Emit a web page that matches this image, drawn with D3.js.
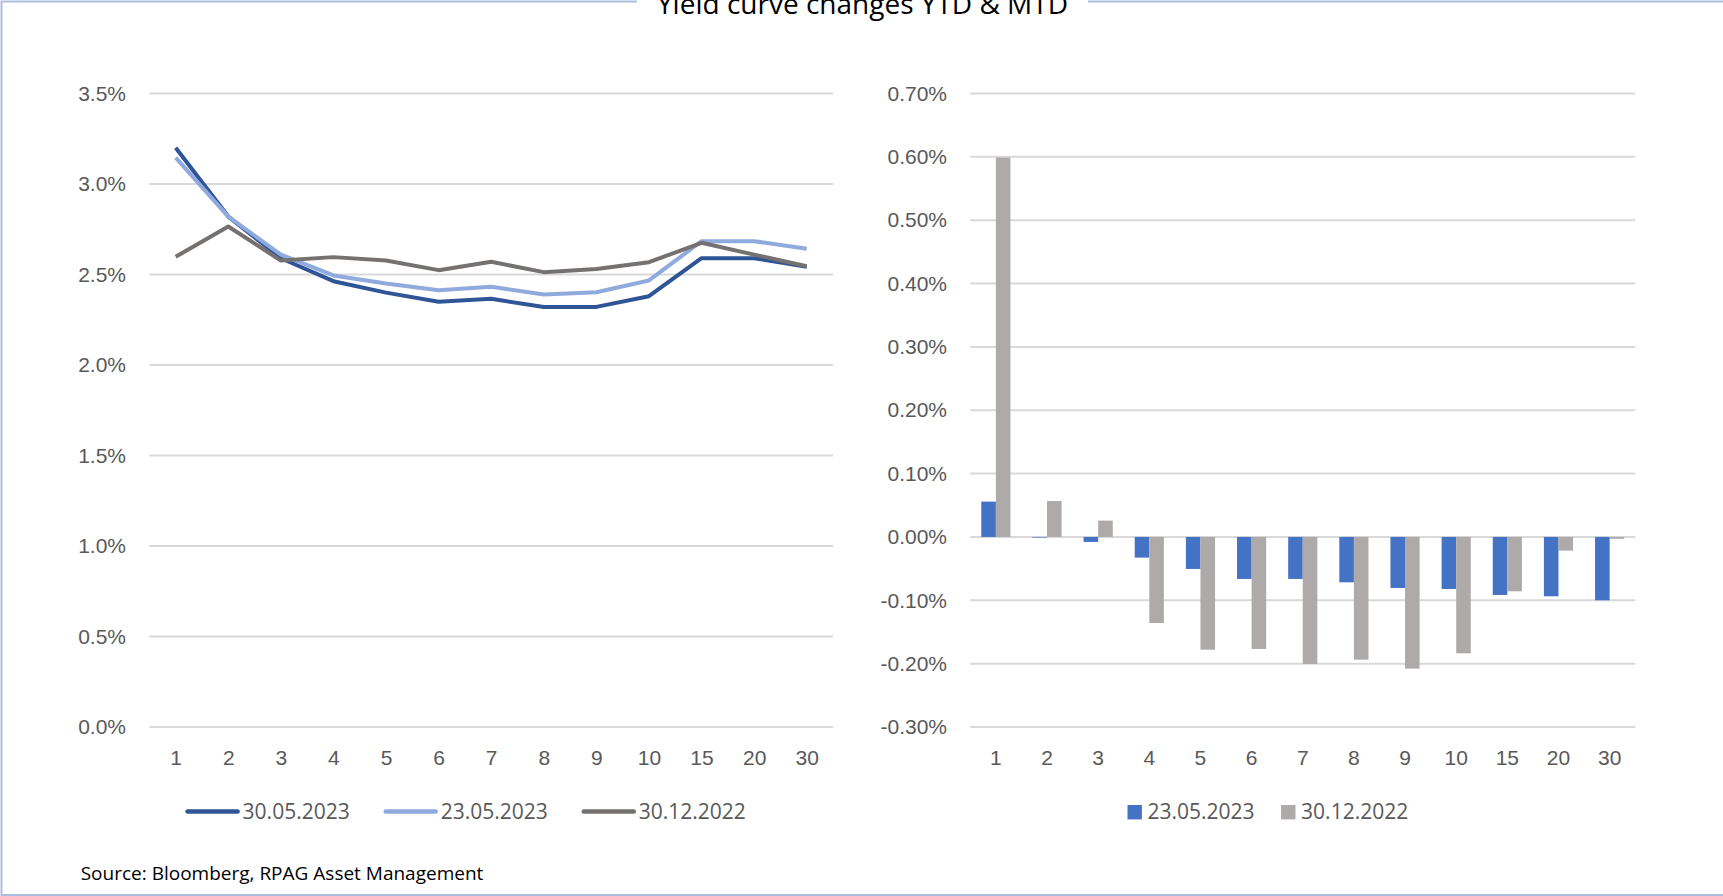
<!DOCTYPE html>
<html>
<head>
<meta charset="utf-8">
<title>Yield curve changes YTD & MTD</title>
<script src="https://cdn.jsdelivr.net/npm/d3@7"></script>
<style>
  html, body { margin: 0; padding: 0; background: #fff; overflow: hidden; }
  svg { display: block; font-family: 'Open Sans', sans-serif; }
  .tick text, .legend text { fill: #595959; font-size: 21px; }
</style>
</head>
<body>
<svg id="chart" width="1723" height="896"></svg>
<script>
// maturities (years)
const maturities = ['1', '2', '3', '4', '5', '6', '7', '8', '9', '10', '15', '20', '30'];

// yield levels in %
const curve300523 = [3.20, 2.82, 2.59, 2.463, 2.40, 2.349, 2.366, 2.32, 2.321, 2.38, 2.59, 2.59, 2.542];
const curve230523 = [3.146, 2.82, 2.61, 2.495, 2.45, 2.413, 2.432, 2.39, 2.402, 2.467, 2.684, 2.684, 2.642];
const curve301222 = [2.598, 2.765, 2.577, 2.596, 2.577, 2.524, 2.57, 2.513, 2.53, 2.568, 2.675, 2.61, 2.546];

// changes vs 30.05.2023 in %
const change230523 = [0.0558, -0.001, -0.0079, -0.0326, -0.0505, -0.0663, -0.0663, -0.0716, -0.0805, -0.0821, -0.0916, -0.0937, -0.100];
const change301222 = [0.599, 0.0568, 0.0258, -0.1358, -0.178, -0.1768, -0.2005, -0.1937, -0.2079, -0.1837, -0.0858, -0.0216, -0.003];

const levelTicks = [0, 0.5, 1, 1.5, 2, 2.5, 3, 3.5];
const changeTicks = [-0.3, -0.2, -0.1, 0, 0.1, 0.2, 0.3, 0.4, 0.5, 0.6, 0.7];

const lineSeries = [
  { name: '30.05.2023', values: curve300523, color: '#2f5597' },
  { name: '23.05.2023', values: curve230523, color: '#8faadc' },
  { name: '30.12.2022', values: curve301222, color: '#767171' }
];
const barSeries = [
  { name: '23.05.2023', values: change230523, color: '#4472c4' },
  { name: '30.12.2022', values: change301222, color: '#aeaaaa' }
];

const svg = d3.select('#chart');
const plotTop = 93.5, plotBottom = 727;
// plain hyphen for negatives, as in the original
const locale = d3.formatLocale({ decimal: '.', thousands: ',', grouping: [3], currency: ['', ''], minus: '-' });

// frame with the title sitting in a gap of the top edge
const frame = svg.append('g')
  .attr('fill', 'none')
  .attr('stroke', '#adbde0')
  .attr('stroke-width', 2);
frame.append('path').attr('d', 'M637,1.5H1.5V895H1723');
frame.append('path').attr('d', 'M1088,1.5H1723');

svg.append('text')
  .attr('x', 862.5)
  .attr('y', 13.5)
  .attr('text-anchor', 'middle')
  .attr('font-size', 28)
  .attr('fill', '#000')
  .text('Yield curve changes YTD & MTD');

// ---------- left chart: yield curves ----------
const xL = d3.scalePoint()
  .domain(maturities)
  .range([149.4, 833])
  .padding(0.5);
const yL = d3.scaleLinear()
  .domain([0, 3.5])
  .range([plotBottom, plotTop]);

gridAndAxes(xL, yL, levelTicks, locale.format('.1f'), 149.4, 833, 126);

const line = d3.line()
  .x((d, i) => xL(maturities[i]))
  .y(d => yL(d));

svg.append('g')
  .attr('class', 'lines')
  .selectAll('path')
  .data(lineSeries)
  .join('path')
  .attr('fill', 'none')
  .attr('stroke', d => d.color)
  .attr('stroke-width', 4)
  .attr('stroke-linejoin', 'round')
  .attr('d', d => line(d.values));

// legend (line swatches)
const legL = svg.append('g').attr('class', 'legend');
let lx = 185.6;
lineSeries.forEach(s => {
  legL.append('line')
    .attr('x1', lx + 2).attr('x2', lx + 52)
    .attr('y1', 811.5).attr('y2', 811.5)
    .attr('stroke', s.color)
    .attr('stroke-width', 4.5)
    .attr('stroke-linecap', 'round');
  const t = legL.append('text')
    .attr('x', lx + 57)
    .attr('y', 811.5)
    .attr('dy', '0.35em')
    .text(s.name);
  lx += 57 + t.node().getComputedTextLength() + 34;
});

// ---------- right chart: changes ----------
const xR = d3.scaleBand()
  .domain(maturities)
  .range([970.3, 1635.2]);
const xSub = d3.scaleBand()
  .domain(barSeries.map(s => s.name))
  .range([xR.bandwidth() * 0.215, xR.bandwidth() * 0.785]);
const yR = d3.scaleLinear()
  .domain([-0.3, 0.7])
  .range([plotBottom, plotTop]);

gridAndAxes(xR, yR, changeTicks, locale.format('.2f'), 970.3, 1635.2, 947);

svg.append('g')
  .attr('class', 'bars')
  .selectAll('g')
  .data(barSeries)
  .join('g')
  .attr('fill', d => d.color)
  .selectAll('rect')
  .data(s => s.values.map((v, i) => ({ key: maturities[i], name: s.name, value: v })))
  .join('rect')
  .attr('x', d => xR(d.key) + xSub(d.name))
  .attr('width', xSub.bandwidth())
  .attr('y', d => yR(Math.max(0, d.value)))
  .attr('height', d => Math.abs(yR(d.value) - yR(0)));

// legend (square swatches)
const legR = svg.append('g').attr('class', 'legend');
let rx = 1127.5;
barSeries.forEach(s => {
  legR.append('rect')
    .attr('x', rx).attr('y', 805)
    .attr('width', 14.4).attr('height', 14.4)
    .attr('fill', s.color);
  const t = legR.append('text')
    .attr('x', rx + 20)
    .attr('y', 811.5)
    .attr('dy', '0.35em')
    .text(s.name);
  rx += 20 + t.node().getComputedTextLength() + 26.5;
});

// source note
svg.append('text')
  .attr('x', 80.7)
  .attr('y', 873)
  .attr('dy', '0.35em')
  .attr('font-size', 19)
  .attr('fill', '#000')
  .text('Source: Bloomberg, RPAG Asset Management');


// UTILITY FUNCTIONS

// horizontal gridlines, y tick labels (as %) and category labels
function gridAndAxes(x, y, ticks, fmt, x0, x1, labelRight) {
  svg.append('g')
    .attr('class', 'grid')
    .selectAll('line')
    .data(ticks)
    .join('line')
    .attr('x1', x0).attr('x2', x1)
    .attr('y1', d => y(d)).attr('y2', d => y(d))
    .attr('stroke', '#d9d9d9')
    .attr('stroke-width', 2);

  const yAxis = svg.append('g')
    .attr('transform', `translate(${labelRight},0)`)
    .call(d3.axisLeft(y).tickValues(ticks).tickFormat(d => fmt(d) + '%').tickSize(0).tickPadding(0));
  yAxis.select('.domain').remove();

  // axisBottom already centres labels in bands / on points
  const xAxis = svg.append('g')
    .attr('transform', 'translate(0,758)')
    .call(d3.axisBottom(x).tickSize(0).tickPadding(0));
  xAxis.select('.domain').remove();
  xAxis.selectAll('text').attr('dy', '0.35em');
}
</script>
</body>
</html>
